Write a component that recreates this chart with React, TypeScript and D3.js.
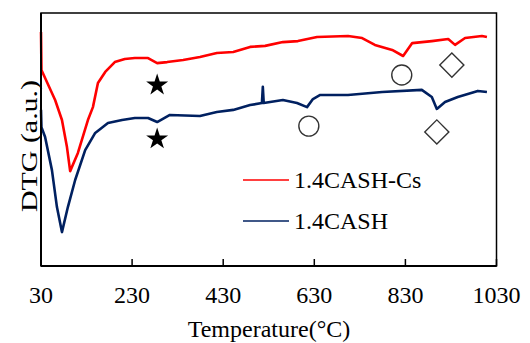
import React from 'react'
import * as d3 from 'd3'

// temperature (°C) and DTG (a.u.)
const csTemp = [30, 31, 61, 76, 87, 94, 111, 133, 144, 155, 171, 192, 214, 236, 265, 285, 307, 342, 379, 416, 452, 489, 522, 561, 594, 636, 704, 735, 763, 801, 825, 845, 888, 924, 939, 961, 998, 1009]
const csDtg = [92.5, 77.5, 65.6, 57.7, 47.0, 37.5, 44.7, 57.7, 62.8, 72.3, 76.7, 80.6, 81.8, 82.2, 82.2, 80.2, 80.6, 81.4, 82.6, 84.2, 84.6, 86.6, 87.0, 88.5, 88.9, 90.5, 90.9, 90.1, 87.4, 85.4, 83.0, 88.1, 88.9, 89.7, 87.4, 90.1, 90.9, 90.5]

const cashTemp = [30, 31, 39, 54, 65, 76, 89, 105, 127, 149, 177, 208, 236, 265, 285, 313, 379, 416, 452, 489, 515, 517, 519, 561, 592, 614, 627, 643, 704, 779, 866, 888, 899, 917, 945, 989, 1009]
const cashDtg = [61.7, 54.9, 51.0, 37.9, 23.3, 13.4, 23.3, 34.0, 45.8, 52.6, 56.5, 57.7, 58.5, 58.5, 56.9, 59.7, 59.3, 60.9, 61.7, 63.6, 64.4, 70.8, 64.4, 65.6, 64.4, 62.8, 66.0, 67.6, 67.6, 68.8, 69.6, 66.8, 62.1, 64.8, 66.8, 69.2, 68.8]

const xTicks = [30, 230, 430, 630, 830, 1030]

// peak markers
const stars = [{ t: 285, v: 71.5 }, { t: 285, v: 50.2 }]
const circles = [{ t: 822, v: 75.5 }, { t: 618, v: 55.3 }]
const diamonds = [{ t: 932, v: 79.4 }, { t: 899, v: 53.0 }]

const series = [
  { name: '1.4CASH-Cs', temp: csTemp, dtg: csDtg, color: '#ff0000' },
  { name: '1.4CASH', temp: cashTemp, dtg: cashDtg, color: '#002060' },
]

const W = 530
const H = 343
const left = 41
const right = 496.5
const top = 13
const bottom = 266
const font = '"Liberation Serif", "Times New Roman", serif'

const App = () => {
  const x = d3.scaleLinear().domain([30, 1030]).range([left, right])
  const y = d3.scaleLinear().domain([0, 100]).range([bottom, top])

  const star = d3.symbol().type(d3.symbolStar).size(150)()
  const square = d3.symbol().type(d3.symbolSquare).size(290)()

  return (
    <svg width={W} height={H} style={{ position: 'absolute', left: 0, top: 0 }} fontFamily={font}>
      <rect width={W} height={H} fill="white" />
      {series.map(s => {
        const pts: [number, number][] = s.temp.map((t, i) => [x(t), y(s.dtg[i])])
        const path = d3.line().curve(d3.curveLinear)(pts)
        return <path key={s.name} d={path || ''} fill="none" stroke={s.color} strokeWidth={2.6} strokeLinejoin="round" />
      })}

      {/* frame */}
      <rect x={left} y={top} width={right - left} height={bottom - top} fill="none" stroke="black" strokeWidth={1.5} />
      <line x1={left} x2={left} y1={top} y2={bottom} stroke="black" strokeWidth={2} />
      <line x1={left} x2={right} y1={bottom} y2={bottom} stroke="black" strokeWidth={2} />

      {xTicks.map(t => (
        <g key={t}>
          <line x1={x(t)} x2={x(t)} y1={bottom} y2={bottom - 7} stroke="black" strokeWidth={1.5} />
          <text x={x(t)} y={bottom + 29} textAnchor="middle" dominantBaseline="central" fontSize={24}>{t}</text>
        </g>
      ))}

      <text x={269} y={337} textAnchor="middle" fontSize={24}>Temperature(°C)</text>
      <text transform="translate(37,146) rotate(-90)" textAnchor="middle" fontSize={24} textLength={132} lengthAdjust="spacingAndGlyphs">DTG (a.u.)</text>

      {stars.map((m, i) => (
        <path key={'s' + i} d={star || ''} transform={`translate(${x(m.t)},${y(m.v)})`} fill="black" />
      ))}
      {circles.map((m, i) => (
        <circle key={'c' + i} cx={x(m.t)} cy={y(m.v)} r={10} fill="none" stroke="#333" strokeWidth={1.4} />
      ))}
      {diamonds.map((m, i) => (
        <path key={'d' + i} d={square || ''} transform={`translate(${x(m.t)},${y(m.v)}) rotate(45)`} fill="none" stroke="#333" strokeWidth={1.4} />
      ))}

      {/* legend */}
      {series.map((s, i) => (
        <g key={'l' + s.name} transform={`translate(0,${180 + i * 41})`}>
          <line x1={243} x2={289} y1={0} y2={0} stroke={s.color} strokeWidth={1.5} />
          <text x={294} y={0} dominantBaseline="central" fontSize={24}>{s.name}</text>
        </g>
      ))}
    </svg>
  )
}

export default App
